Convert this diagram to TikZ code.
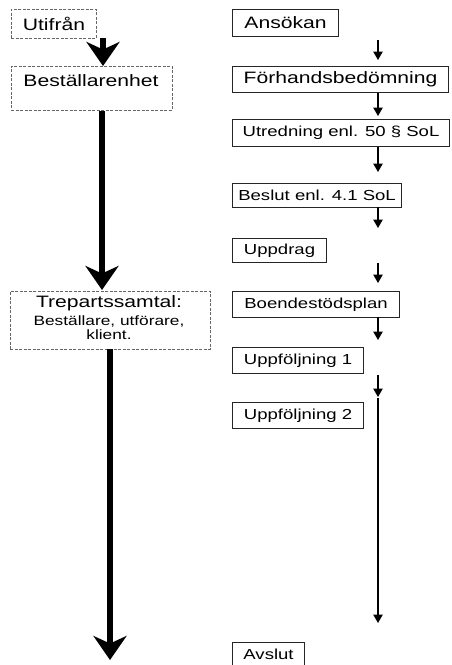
\documentclass[tikz,border=0pt]{standalone}
\usepackage{fontspec}
\setmainfont{Liberation Sans}[FakeStretch=1.28]
\usetikzlibrary{arrows.meta}
\begin{document}
\begin{tikzpicture}[x=1pt,y=-1pt,
  solidbox/.style={draw=black!85, line width=1.1pt, inner sep=0pt, anchor=north west, font=\fontsize{14.5}{17}\selectfont},
  bigsolid/.style={solidbox, font=\fontsize{16.5}{19}\selectfont},
  dashbox/.style={draw=black!60, dash pattern=on 3pt off 1.5pt, line width=0.9pt, inner sep=0pt, anchor=north west, font=\fontsize{16.5}{19}\selectfont},
  bigtext/.style={inner sep=0pt, font=\fontsize{16.5}{19}\selectfont},
  smalltext/.style={inner sep=0pt, font=\fontsize{13.5}{15}\selectfont},
  thinarrow/.style={line width=1.1pt, -{Triangle[length=8.5pt,width=9.5pt]}},
  bigarrow/.style={line width=6.5pt, -{Stealth[length=24pt,width=33pt,inset=7.5pt]}},
]
\useasboundingbox (0,0) rectangle (452,665);

% left column
\node[dashbox, minimum width=85pt, minimum height=29pt] (utif) at (11,9) {Utifrån};
\node[dashbox, minimum width=161pt, minimum height=44pt] (best) at (11,66) {};
\node[bigtext] (bestt) at (91,81) {Beställarenhet};
\node[dashbox, minimum width=200pt, minimum height=58pt] (trep) at (10,291) {};
\node[bigtext] (trep1) at (109,303) {Trepartssamtal:};
\node[smalltext] (trep2) at (109,321) {Beställare, utförare,};
\node[smalltext] (trep3) at (109,335) {klient.};

\coordinate (L1s) at (103,38);
\coordinate (L1e) at (103,66);
\coordinate (L2s) at (102,110.5);
\coordinate (L2e) at (102,290);
\coordinate (L3s) at (110,349);
\coordinate (L3e) at (110,660);
\draw[bigarrow] (L1s) -- (L1e);
\draw[bigarrow] (L2s) -- (L2e);
\draw[bigarrow] (L3s) -- (L3e);

% right column
\node[bigsolid, minimum width=106pt, minimum height=27pt] (ans) at (232,9) {Ansökan};
\node[bigsolid, minimum width=216pt, minimum height=26pt] (forh) at (232,66) {Förhandsbedömning};
\node[solidbox, minimum width=217pt, minimum height=27pt] (utr) at (232,119) {Utredning enl. 50 § SoL};
\node[solidbox, minimum width=169pt, minimum height=24pt] (bes) at (232,183) {Beslut enl. 4.1 SoL};
\node[solidbox, minimum width=94pt, minimum height=24pt] (upp) at (232,238) {Uppdrag};
\node[solidbox, minimum width=167pt, minimum height=26pt] (boe) at (232,291) {Boendestödsplan};
\node[solidbox, minimum width=131pt, minimum height=26pt] (uf1) at (232,347) {Uppföljning 1};
\node[solidbox, minimum width=131pt, minimum height=26pt] (uf2) at (232,402) {Uppföljning 2};
\node[solidbox, minimum width=72pt, minimum height=24pt] (avs) at (232,642) {Avslut};

\coordinate (r1s) at (378,40);  \coordinate (r1e) at (378,60);
\coordinate (r2s) at (378,93);  \coordinate (r2e) at (378,116);
\coordinate (r3s) at (378,147); \coordinate (r3e) at (378,172);
\coordinate (r4s) at (378,207); \coordinate (r4e) at (378,228);
\coordinate (r5s) at (378,263); \coordinate (r5e) at (378,283);
\coordinate (r6s) at (378,317); \coordinate (r6e) at (378,340);
\coordinate (r7s) at (378,375); \coordinate (r7e) at (378,397);
\coordinate (r8s) at (378,398); \coordinate (r8e) at (378,623);
\foreach \i in {1,...,8} {\draw[thinarrow] (r\i s) -- (r\i e);}
\end{tikzpicture}
\end{document}
